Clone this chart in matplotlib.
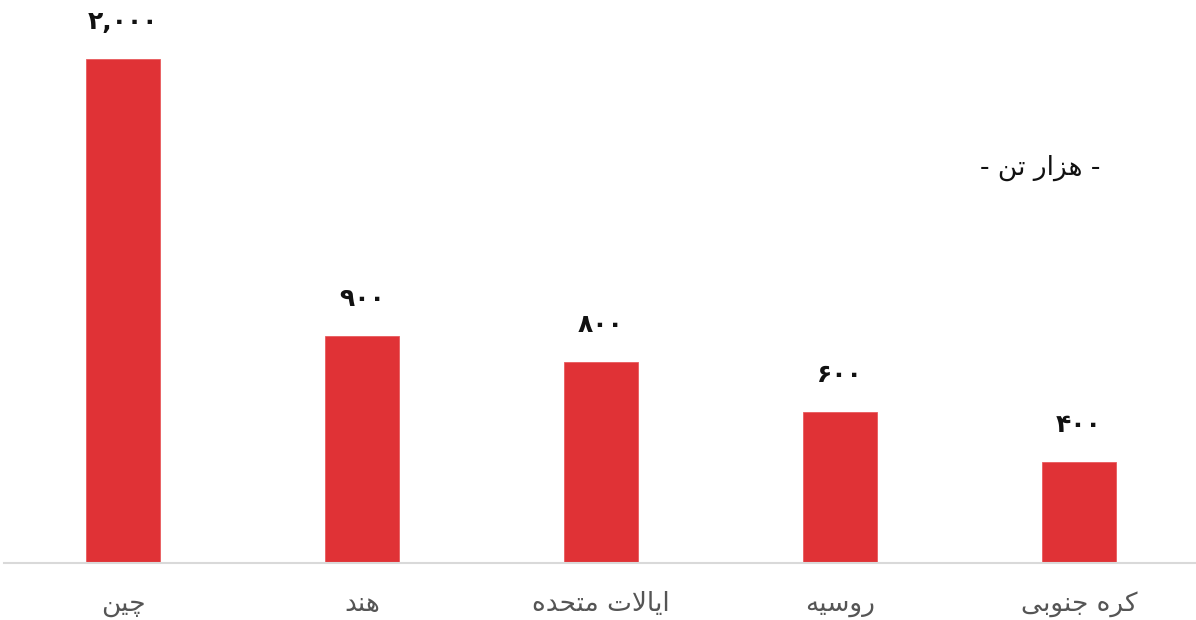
import matplotlib
matplotlib.use("Agg")
import matplotlib.pyplot as plt

categories = ["چین", "هند", "ایالات متحده", "روسیه", "کره جنوبی"]
values = [2000, 900, 800, 600, 400]
value_labels = ["۲,۰۰۰", "۹۰۰", "۸۰۰", "۶۰۰", "۴۰۰"]
unit_label = "- هزار تن -"

# presentation forms: (isolated, final, initial, medial); two entries = joins only to the right
FORMS = {
    "ا": ("\uFE8D", "\uFE8E"),
    "ب": ("\uFE8F", "\uFE90", "\uFE91", "\uFE92"),
    "ت": ("\uFE95", "\uFE96", "\uFE97", "\uFE98"),
    "ج": ("\uFE9D", "\uFE9E", "\uFE9F", "\uFEA0"),
    "چ": ("\uFB7A", "\uFB7B", "\uFB7C", "\uFB7D"),
    "ح": ("\uFEA1", "\uFEA2", "\uFEA3", "\uFEA4"),
    "د": ("\uFEA9", "\uFEAA"),
    "ر": ("\uFEAD", "\uFEAE"),
    "ز": ("\uFEAF", "\uFEB0"),
    "س": ("\uFEB1", "\uFEB2", "\uFEB3", "\uFEB4"),
    "ک": ("\uFB8E", "\uFB8F", "\uFB90", "\uFB91"),
    "ل": ("\uFEDD", "\uFEDE", "\uFEDF", "\uFEE0"),
    "م": ("\uFEE1", "\uFEE2", "\uFEE3", "\uFEE4"),
    "ن": ("\uFEE5", "\uFEE6", "\uFEE7", "\uFEE8"),
    "ه": ("\uFEE9", "\uFEEA", "\uFEEB", "\uFEEC"),
    "و": ("\uFEED", "\uFEEE"),
    "ی": ("\uFBFC", "\uFBFD", "\uFBFE", "\uFBFF"),
}


def shape(text):
    # join letters and put them in visual (left-to-right) order
    out = []
    i = 0
    n = len(text)
    while i < n:
        c = text[i]
        if c not in FORMS:
            out.append(c)
            i += 1
            continue
        prev = text[i - 1] if i > 0 else ""
        joins_prev = prev in FORMS and len(FORMS[prev]) == 4
        if c == "ل" and i + 1 < n and text[i + 1] == "ا":
            out.append("\uFEFC" if joins_prev else "\uFEFB")
            i += 2
            continue
        nxt = text[i + 1] if i + 1 < n else ""
        joins_next = len(FORMS[c]) == 4 and nxt in FORMS
        f = FORMS[c]
        if joins_prev and joins_next:
            out.append(f[3])
        elif joins_prev:
            out.append(f[1])
        elif joins_next:
            out.append(f[2])
        else:
            out.append(f[0])
        i += 1
    return "".join(reversed(out))


plt.rcParams["font.family"] = ["DejaVu Sans"]

fig = plt.figure(figsize=(11.96, 6.2), dpi=100)
ax = fig.add_axes([3.5 / 1196, (620 - 563) / 620, 1195 / 1196, 554 / 620])

x = range(len(categories))
bars = ax.bar(x, values, width=0.31, color="#E03236", edgecolor="#E85A5D", linewidth=0.6)

for b, lab in zip(bars, value_labels):
    ax.annotate(lab, (b.get_x() + b.get_width() / 2, b.get_height()),
                xytext=(0, 18), textcoords="offset points",
                ha="center", va="bottom", fontsize=18, fontweight="bold", color="#111111")

ax.set_xlim(-0.5, 4.5)
ax.set_ylim(0, 2200)
ax.set_xticks(list(x))
ax.set_xticklabels([shape(c) for c in categories], fontsize=19, color="#555555")
ax.tick_params(axis="x", length=0, pad=20)
ax.set_yticks([])
for s in ["top", "right", "left"]:
    ax.spines[s].set_visible(False)
ax.spines["bottom"].set_color("#d9d9d9")
ax.spines["bottom"].set_linewidth(1.5)

ax.text(3.837, 1571, shape(unit_label), ha="center", va="center", fontsize=19, color="#111111")

fig.savefig("out.png", dpi=100)
